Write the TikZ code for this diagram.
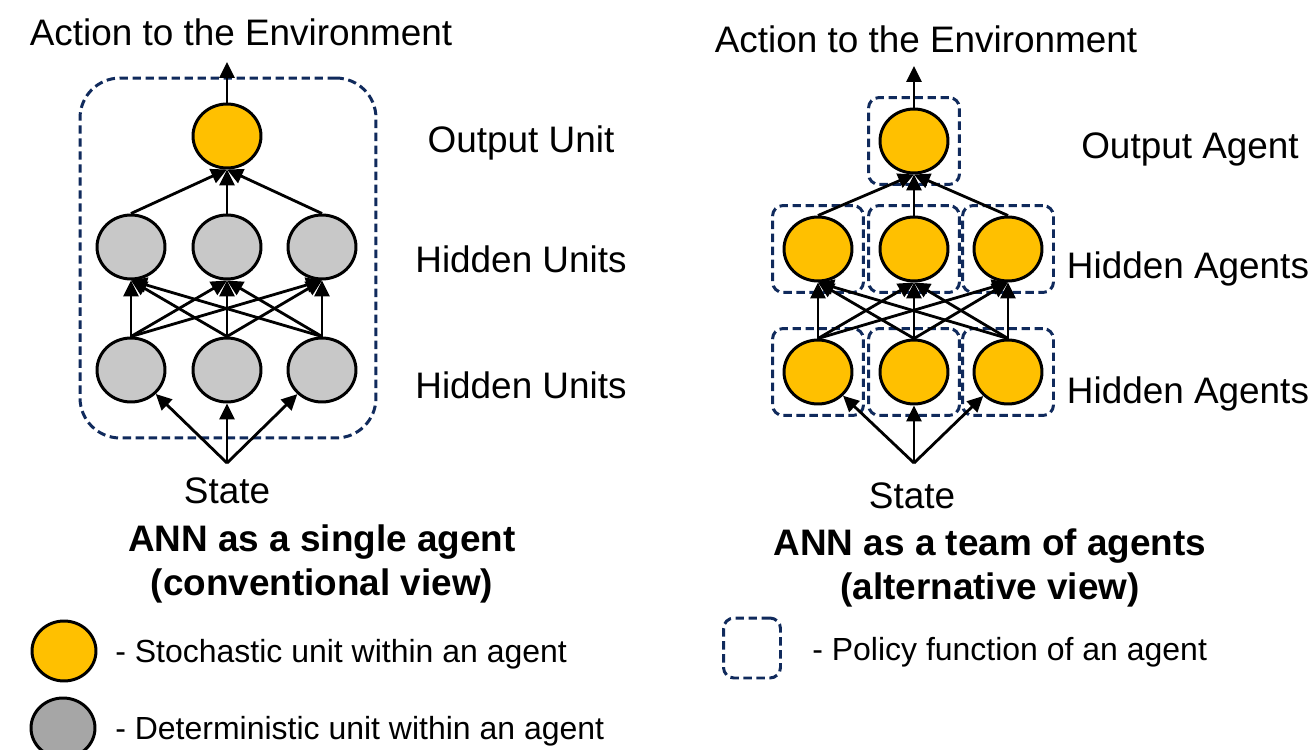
\documentclass[tikz,border=0pt]{standalone}
\usepackage{fontspec}
\setmainfont{Liberation Sans}
\usepackage{tikz}
\usetikzlibrary{arrows.meta,positioning,shapes.geometric,fit}
\definecolor{amberunit}{HTML}{FFC000}
\definecolor{greyunit}{HTML}{C8C8C8}
\definecolor{greyleg}{HTML}{A6A6A6}
\definecolor{navy}{HTML}{102A5C}
\tikzset{
  unit/.style={ellipse, draw=black, line width=1.7pt, minimum width=1.36cm,
               minimum height=1.28cm, inner sep=0pt},
  stoch/.style={unit, fill=amberunit},
  detm/.style={unit, fill=greyunit},
  lbl/.style={font=\fontsize{21}{24}\selectfont, anchor=base, inner sep=0pt},
  ttl/.style={lbl, font=\fontsize{21}{24}\selectfont\bfseries},
  leg/.style={lbl, font=\fontsize{18.2}{22}\selectfont, anchor=base west},
  link/.style={-{Triangle[length=9pt,width=8.5pt]}, line width=1.6pt},
  policy/.style={draw=navy, line width=1.7pt, dash pattern=on 4.8pt off 2.6pt,
                 rounded corners=6pt, inner sep=0.2cm},
  shell/.style={policy, rounded corners=0.8cm, inner sep=0pt}
}
\begin{document}
\begin{tikzpicture}[x=0.02cm, y=-0.02cm]
  \useasboundingbox (0,0) rectangle (1316,750);

  % conventional view: one agent
  \node[stoch] (lout) at (227,136) {};
  \foreach \i/\x in {1/131, 2/227, 3/322}
    { \node[detm] (lhA\i) at (\x,247) {};
      \node[detm] (lhB\i) at (\x,370) {}; }
  \node[shell, minimum width=5.92cm, minimum height=7.2cm] (lagent) at (228,258) {};
  \coordinate (lstate) at (227,463);
  \coordinate (lact) at (227,62);

  \draw[link] (lout.north) -- (lact);
  \foreach \i in {1,2,3}
    { \draw[link] (lstate) -- (lhB\i);
      \draw[link] (lhA\i.north) -- (lout.south);
      \foreach \j in {1,2,3}
        \draw[link] (lhB\i.north) -- (lhA\j.south); }

  \node[lbl] (lacttxt) at (241,46) {Action to the Environment};
  \node[lbl] (louttxt) at (521,153) {Output Unit};
  \node[lbl] (lhAtxt) at (521,273) {Hidden Units};
  \node[lbl] (lhBtxt) at (521,398) {Hidden Units};
  \node[lbl] (lsttxt) at (227,503) {State};
  \node[ttl] (lttlA) at (322,551) {ANN as a single agent};
  \node[ttl] (lttlB) at (322,595) {(conventional view)};

  % alternative view: team of agents
  \node[stoch] (rout) at (914,141) {};
  \foreach \i/\x in {1/818, 2/914, 3/1008}
    { \node[stoch] (rhA\i) at (\x,249) {};
      \node[stoch] (rhB\i) at (\x,372) {};
      \node[policy, fit=(rhA\i)] (rpA\i) {};
      \node[policy, fit=(rhB\i)] (rpB\i) {}; }
  \node[policy, fit=(rout)] (rpout) {};
  \coordinate (rstate) at (914,463);
  \coordinate (ract) at (914,66);

  \draw[link] (rout.north) -- (ract);
  \foreach \i in {1,2,3}
    { \draw[link] (rstate) -- (rhB\i);
      \draw[link] (rhA\i.north) -- (rout.south);
      \foreach \j in {1,2,3}
        \draw[link] (rhB\i.north) -- (rhA\j.south); }

  \node[lbl] (racttxt) at (926,53) {Action to the Environment};
  \node[lbl] (routtxt) at (1190,158) {Output Agent};
  \node[lbl] (rhAtxt) at (1188,278) {Hidden Agents};
  \node[lbl] (rhBtxt) at (1188,403) {Hidden Agents};
  \node[lbl] (rsttxt) at (912,508) {State};
  \node[ttl] (rttlA) at (990,555) {ANN as a team of agents};
  \node[ttl] (rttlB) at (990,599) {(alternative view)};

  % legend
  \node[unit, fill=amberunit, minimum width=1.28cm, minimum height=1.2cm] (legstoch) at (64,651) {};
  \node[unit, fill=greyleg, minimum width=1.28cm, minimum height=1.2cm] (legdetm) at (63,728) {};
  \node[policy, minimum width=1.14cm, minimum height=1.2cm, inner sep=0pt] (legpol) at (752,648) {};
  \node[leg] (legstochtxt) at (115,662) {- Stochastic unit within an agent};
  \node[leg] (legdetmtxt) at (115,739) {- Deterministic unit within an agent};
  \node[leg] (legpoltxt) at (812,660) {- Policy function of an agent};
\end{tikzpicture}
\end{document}
